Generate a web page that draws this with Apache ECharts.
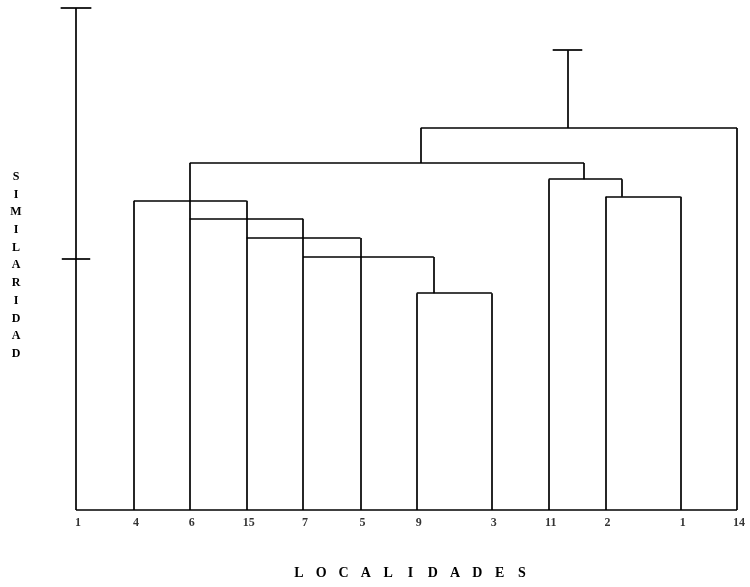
<!DOCTYPE html>
<html>
<head>
<meta charset="utf-8">
<script src="https://cdn.jsdelivr.net/npm/echarts@6/dist/echarts.min.js"></script>
<style>html,body{margin:0;padding:0;background:#fff;}#c{width:750px;height:587px;}</style>
</head>
<body>
<div id="c"></div>
<script>
// Leaves (left to right) and their axis positions
var leafLabels = ['1', '4', '6', '15', '7', '5', '9', '3', '11', '2', '1', '14'];
var leafPos    = [0, 1.02, 2.0, 3.0, 3.99, 5.0, 5.99, 7.31, 8.31, 9.31, 10.63, 11.62];
// Height at which each leaf's vertical line ends (first one is the scale bar)
var leafTop    = [1.0, 0.616, 0.691, 0.616, 0.580, 0.542, 0.432, 0.432, 0.659, 0.624, 0.624, 0.761];

// Horizontal junction lines: from x, to x, height
var linkFrom   = [5.99, 3.99, 3.0, 2.0, 1.02, 2.0, 8.31, 9.31, 6.06];
var linkTo     = [7.31, 6.29, 5.0, 3.99, 3.0, 8.93, 9.6, 10.63, 11.62];
var linkHeight = [0.432, 0.504, 0.542, 0.580, 0.616, 0.691, 0.659, 0.624, 0.761];

// Vertical stems connecting a junction to a higher junction
var stemX      = [6.29, 9.6, 8.93, 6.06, 8.64];
var stemFrom   = [0.432, 0.624, 0.659, 0.691, 0.761];
var stemTo     = [0.504, 0.659, 0.691, 0.761, 0.916];

// Cross ticks: centre x, height, half width
var tickX      = [0, 0, 8.64];
var tickY      = [1.0, 0.5, 0.916];
var tickHalf   = [0.27, 0.25, 0.26];

var yTitle = 'SIMILARIDAD';
var xTitle = 'LOCALIDADES';

var segs = [];
for (var i = 0; i < leafPos.length; i++) segs.push({coords: [[leafPos[i], 0], [leafPos[i], leafTop[i]]]});
for (var i = 0; i < linkFrom.length; i++) segs.push({coords: [[linkFrom[i], linkHeight[i]], [linkTo[i], linkHeight[i]]]});
for (var i = 0; i < stemX.length; i++) segs.push({coords: [[stemX[i], stemFrom[i]], [stemX[i], stemTo[i]]]});
for (var i = 0; i < tickX.length; i++) segs.push({coords: [[tickX[i] - tickHalf[i], tickY[i]], [tickX[i] + tickHalf[i], tickY[i]]]});
segs.push({coords: [[leafPos[0], 0], [leafPos[leafPos.length - 1], 0]]});

var labelData = leafPos.map(function (p, i) { return {value: [p, 0], name: leafLabels[i]}; });

var font = '"Liberation Serif", "DejaVu Serif", serif';
var graphics = [{
  type: 'text', x: 16, y: 168,
  style: {text: yTitle.split('').join('\n'), fontFamily: font, fontWeight: 'bold', fontSize: 12, fill: '#000', lineHeight: 17.7, align: 'center', verticalAlign: 'top'}
}];
var letters = xTitle.split('');
for (var k = 0; k < letters.length; k++) {
  graphics.push({type: 'text', x: 299 + k * 22.3, y: 573,
    style: {text: letters[k], fontFamily: font, fontWeight: 'bold', fontSize: 14, fill: '#000', align: 'center', verticalAlign: 'middle'}});
}

var chart = echarts.init(document.getElementById('c'));
chart.setOption({
  backgroundColor: '#fff',
  animation: false,
  grid: {left: 76, right: 13, top: 8, bottom: 77},
  xAxis: {type: 'value', min: 0, max: 11.62, show: false},
  yAxis: {type: 'value', min: 0, max: 1, show: false},
  graphic: graphics,
  series: [{
    type: 'lines',
    coordinateSystem: 'cartesian2d',
    polyline: false,
    silent: true,
    clip: false,
    lineStyle: {color: '#000', width: 1.7, opacity: 1},
    data: segs
  }, {
    type: 'scatter',
    symbolSize: 0,
    silent: true,
    clip: false,
    data: labelData,
    label: {show: true, position: 'bottom', distance: 7, offset: [2, 0], formatter: '{b}', color: '#000', fontFamily: font, fontWeight: 'bold', fontSize: 12}
  }]
});
</script>
</body>
</html>
